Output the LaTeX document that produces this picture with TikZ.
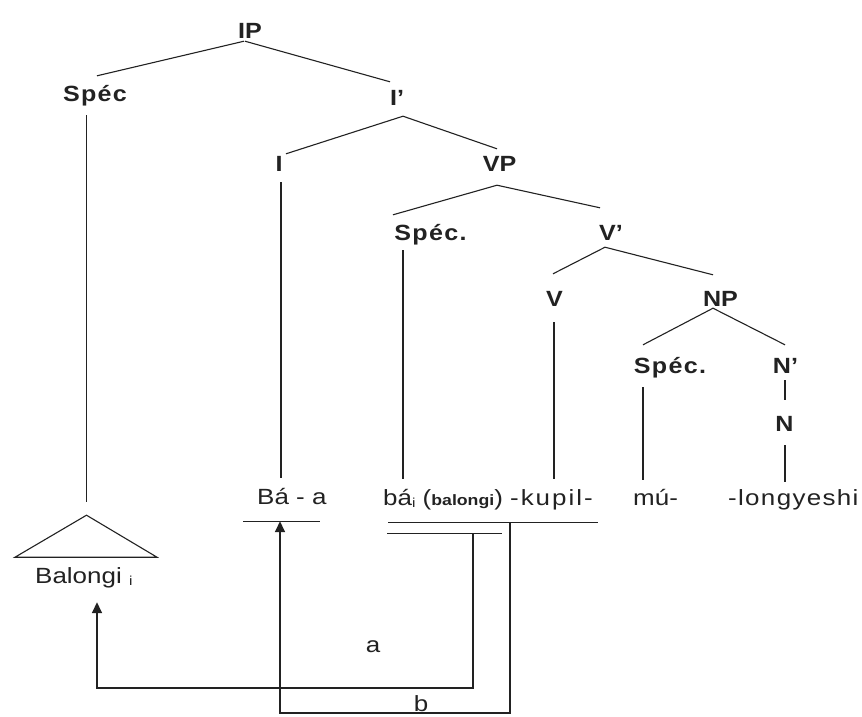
\documentclass[tikz,border=0pt]{standalone}
\usepackage{fontspec}
\setmainfont{Liberation Sans}[FakeStretch=1.18]
\newfontfamily\catfont{Liberation Sans}[FakeStretch=1.14]
\newfontfamily\specfont{Liberation Sans}[FakeStretch=1.14, LetterSpace=6]
\usetikzlibrary{arrows.meta}

\definecolor{ink}{HTML}{222222}

% small lowered co-index letter
\newcommand\coidx{\raisebox{-2pt}{\fontsize{13}{13}\selectfont i}}
% small bold gloss inside the word line
\newcommand\glossbold[1]{{\fontsize{15}{15}\selectfont\bfseries #1}}
% word set with extra tracking
\newcommand\spaced[2]{{\addfontfeature{LetterSpace=#1}#2}}

\begin{document}
\begin{tikzpicture}[x=1pt, y=-1pt,
  cat/.style={font=\catfont\bfseries\fontsize{22}{24}\selectfont, text=ink,
              inner sep=0pt, text height=16pt, text depth=0pt, anchor=base},
  spec/.style={cat, font=\specfont\bfseries\fontsize{22}{24}\selectfont},
  word/.style={font=\fontsize{22}{24}\selectfont, text=ink,
               inner sep=0pt, text height=17pt, text depth=0pt, anchor=base west},
  branch/.style={draw=ink, line width=1.1pt},
  move/.style={draw=ink, line width=1.6pt, -{Triangle[length=11pt, width=10pt]}}
]
\fill[white] (0,0) rectangle (862,716);
\useasboundingbox (0,0) rectangle (862,716);
\clip (0,0) rectangle (862,716);

% ---- category labels ----
\node[cat]  (IP)    at (250,38)    {IP};
\node[spec] (Spec)  at (95,101)    {Spéc};
\node[cat]  (Ibar)  at (397,105)   {I’};
\node[cat]  (I)     at (279,171)   {I};
\node[cat]  (VP)    at (499.5,171) {VP};
\node[spec] (SpecV) at (430.5,240) {Spéc.};
\node[cat]  (Vbar)  at (611,240)   {V’};
\node[cat]  (V)     at (554.5,306) {V};
\node[cat]  (NP)    at (720.5,306) {NP};
\node[spec] (SpecN) at (670,373)   {Spéc.};
\node[cat]  (Nbar)  at (785.5,373) {N’};
\node[cat]  (N)     at (784.5,431) {N};

% ---- terminal string ----
\node[word] (Baa)       at (257,504) {Bá - a};
\node[word] (kupil)     at (383,505) {bá\coidx{} (\glossbold{balongi}) \spaced{9}{-kupil-}};
\node[word] (mu)        at (633,505) {mú-};
\node[word] (longyeshi) at (728,505) {\spaced{6}{-longyeshi}};
\node[word] (Balongi)   at (35,583)  {Balongi \coidx};

% ---- branches ----
\draw[branch] ([shift={(-6,3)}]IP.south)     -- ([shift={(2,-9)}]Spec.north);
\draw[branch] ([shift={(-5,3)}]IP.south)     -- ([shift={(-7,-7)}]Ibar.north);
\draw[branch] ([shift={(6,11)}]Ibar.south)   -- ([shift={(7,-1)}]I.north);
\draw[branch] ([shift={(6,11)}]Ibar.south)   -- ([shift={(-2.5,-6)}]VP.north);
\draw[branch] ([shift={(-2.5,14)}]VP.south)  -- ([shift={(-37.5,-9)}]SpecV.north);
\draw[branch] ([shift={(-2.5,14)}]VP.south)  -- ([shift={(-11,-16)}]Vbar.north);
\draw[branch] ([shift={(-6,7)}]Vbar.south)   -- ([shift={(-1.5,-16)}]V.north);
\draw[branch] ([shift={(-6,7)}]Vbar.south)   -- ([shift={(-7.5,-15)}]NP.north);
\draw[branch] ([shift={(-7.5,2)}]NP.south)   -- ([shift={(-27,-12)}]SpecN.north);
\draw[branch] ([shift={(-7.5,2)}]NP.south)   -- ([shift={(-0.5,-12)}]Nbar.north);
\draw[branch] ([shift={(-0.5,7)}]Nbar.south) -- ([shift={(0.5,-15)}]N.north);

% feet of the vertical stems and tops of the words
\path ([shift={(-8.5,14)}]Spec.south) coordinate (SpecFoot)
      ([shift={(2,11)}]I.south)       coordinate (IFoot)
      ([shift={(-27.5,10)}]SpecV.south) coordinate (SpecVFoot)
      ([shift={(-0.5,16)}]V.south)    coordinate (VFoot)
      ([shift={(-27,14)}]SpecN.south) coordinate (SpecNFoot)
      ([shift={(0.5,14)}]N.south)     coordinate (NFoot)
      ([shift={(0,-9)}]Baa.north)     coordinate (BaaTop)
      ([shift={(0,-9)}]kupil.north)   coordinate (kupilTop)
      ([shift={(0,-8)}]mu.north)      coordinate (muTop)
      ([shift={(0,-6)}]longyeshi.north) coordinate (longTop);

% triangle over the subject
\path ([shift={(51.5,-68)}]Balongi.south west) coordinate (triTop)
      ([shift={(-20,-26)}]Balongi.south west)  coordinate (triL)
      ([shift={(122,-26)}]Balongi.south west)  coordinate (triR)
      ([shift={(0,-13)}]triTop)                coordinate (triStem);
\draw[branch] (triTop) -- (triR) -- (triL) -- cycle;

\draw[branch] (SpecFoot)  -- (SpecFoot |- triStem);
\draw[branch] (IFoot)     -- (IFoot |- BaaTop);
\draw[branch] (SpecVFoot) -- (SpecVFoot |- kupilTop);
\draw[branch] (VFoot)     -- (VFoot |- kupilTop);
\draw[branch] (SpecNFoot) -- (SpecNFoot |- muTop);
\draw[branch] (NFoot)     -- (NFoot |- longTop);

% ---- underlines ----
\path ([shift={(-14,17)}]Baa.south west)  coordinate (ulBaL)
      ([shift={(63,17)}]Baa.south west)   coordinate (ulBaR)
      ([shift={(5,17)}]kupil.south west)  coordinate (ulKuL)
      ([shift={(215,17)}]kupil.south west) coordinate (ulKuR)
      ([shift={(4,28)}]kupil.south west)  coordinate (ulBiL)
      ([shift={(119,28)}]kupil.south west) coordinate (ulBiR);
\draw[branch] (ulBaL) -- (ulBaR);
\draw[branch] (ulKuL) -- (ulKuR);
\draw[branch] (ulBiL) -- (ulBiR);

% ---- movement arrows ----
\path ([shift={(90,28)}]kupil.south west)  coordinate (aStart)
      ([shift={(127,17)}]kupil.south west) coordinate (bStart)
      ([shift={(62,19)}]Balongi.south west) coordinate (BalTip)
      ([shift={(23,17)}]Baa.south west)     coordinate (BaaTip)
      (0,688) coordinate (aLevel)
      (0,713) coordinate (bLevel);
\draw[move] (aStart) -- (aStart |- aLevel) -| (BalTip);
\draw[move] (bStart) -- (bStart |- bLevel) -| (BaaTip);

\node[word, anchor=base] (la) at (373,652) {a};
\node[word, anchor=base] (lb) at (421,711) {b};
\end{tikzpicture}
\end{document}
